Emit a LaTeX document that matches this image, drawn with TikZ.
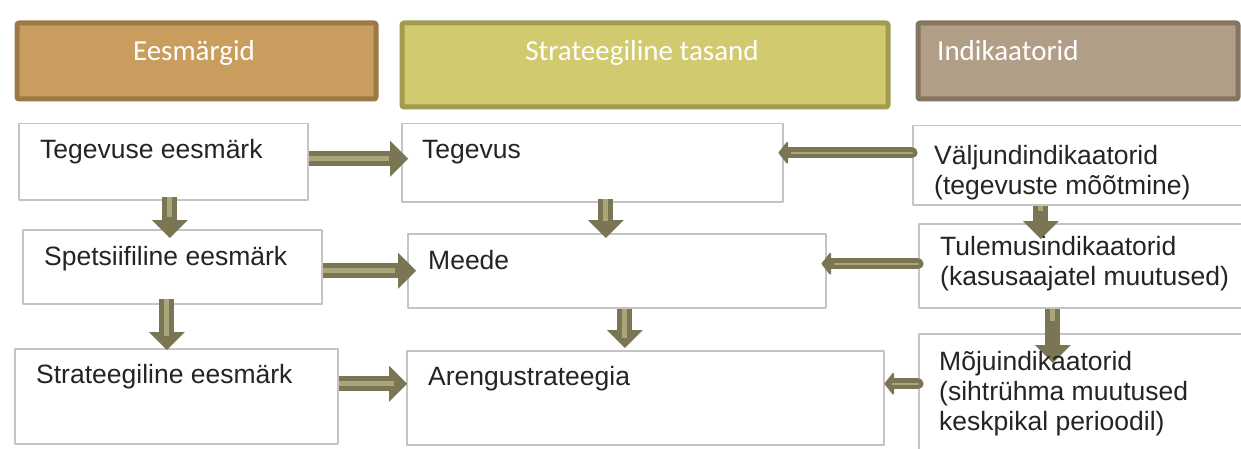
\documentclass[tikz,border=0pt]{standalone}
\usepackage{fontspec}
\setmainfont{Liberation Sans}
\newfontfamily\hdfont{Carlito}
\usetikzlibrary{arrows.meta}
\definecolor{goalfill}{HTML}{C89D5D}
\definecolor{goalline}{HTML}{9B7846}
\definecolor{stratfill}{HTML}{D2CA6E}
\definecolor{stratline}{HTML}{A09B4F}
\definecolor{indfill}{HTML}{B09E87}
\definecolor{indline}{HTML}{85745F}
\definecolor{cellline}{HTML}{C4C4C4}
\definecolor{arrdark}{HTML}{7A7653}
\definecolor{arrlight}{HTML}{A9A67C}
\definecolor{txt}{HTML}{262420}
\begin{document}
\begin{tikzpicture}[x=1pt, y=-1pt, line join=round,
	hdr/.style={line width=5pt, rounded corners=2pt, anchor=north west, inner sep=0pt},
	hdtext/.style={font=\hdfont\fontsize{29}{34}\selectfont, text=white, inner sep=0pt, anchor=base},
	cell/.style={draw=cellline, line width=1.5pt, fill=white, anchor=north west, inner sep=0pt},
	celltext/.style={font=\fontsize{26.5}{30}\selectfont, text=txt, inner sep=0pt, align=left, anchor=base west},
	fatarr/.style={draw=arrdark, line width=15pt, -{Triangle[length=18pt,width=36pt,line width=0pt]},
		postaction={draw=arrlight, line width=5pt, -, shorten >=12pt}},
	slimarr/.style={draw=arrdark, line width=11pt, line cap=round, -{Triangle[round,length=10pt,width=25pt,line width=2pt]},
		postaction={draw=arrlight, line width=2pt, -, shorten >=8pt}}]
	\useasboundingbox (0,0) rectangle (1241,449);
	\clip (0,0) rectangle (1241,449);
	% kolm pealkirja
	\node[hdr, draw=goalline, fill=goalfill, minimum width=359pt, minimum height=76pt] (eesm) at (14.5,20.5) {};
	\node[hdr, draw=stratline, fill=stratfill, minimum width=486pt, minimum height=84pt] (tasand) at (399.5,20.5) {};
	\node[hdr, draw=indline, fill=indfill, minimum width=320pt, minimum height=76pt] (indik) at (915.5,20.5) {};
	\node[hdtext] (eesmT) at (194,61) {Eesmärgid};
	\node[hdtext] (tasandT) at (642,61) {Strateegiline tasand};
	\node[hdtext, anchor=base west] (indikT) at (937,61) {Indikaatorid};
	% kastid
	\node[cell, minimum width=289pt, minimum height=76pt] (teg) at (18,123) {};
	\node[cell, minimum width=299pt, minimum height=74pt] (spets) at (22,229) {};
	\node[cell, minimum width=323pt, minimum height=95pt] (strat) at (14,348) {};
	\node[cell, minimum width=381pt, minimum height=78pt] (tegevus) at (401,123) {};
	\node[cell, minimum width=418pt, minimum height=74pt] (meede) at (407,233) {};
	\node[cell, minimum width=477pt, minimum height=94pt] (areng) at (406,350) {};
	\node[cell, minimum width=340pt, minimum height=79pt] (valjund) at (912,125) {};
	\node[cell, minimum width=340pt, minimum height=84pt] (tulemus) at (918,223) {};
	\node[cell, minimum width=340pt, minimum height=130pt] (moju) at (918,333) {};
	% nooled
	\draw[fatarr, shorten >=-7pt] ([yshift=3pt]teg.east) -- ([yshift=4pt]tegevus.west);
	\draw[fatarr, shorten >=-9pt] ([yshift=-4pt]spets.east) -- (meede.west);
	\draw[fatarr, shorten >=-1pt] ([yshift=12.5pt]strat.east) -- ([yshift=14pt]areng.west);
	\draw[slimarr, shorten >=-5pt] ([yshift=12.5pt]valjund.west) -- ([yshift=10pt]tegevus.east);
	\draw[slimarr, shorten >=-5pt] ([yshift=2pt]tulemus.west) -- ([yshift=7pt]meede.east);
	\draw[slimarr] ([yshift=15pt]moju.west) -- ([yshift=14pt]areng.east);
	\draw[fatarr, shorten <=-4pt, shorten >=-9pt] ([xshift=6.5pt]teg.south) -- ([xshift=-2.5pt]spets.north);
	\draw[fatarr, shorten <=-6pt, shorten >=-2pt] ([xshift=-5.5pt]spets.south) -- ([xshift=-9.5pt]strat.north);
	\draw[fatarr, shorten <=-4pt, shorten >=-5pt] ([xshift=13.5pt]tegevus.south) -- ([xshift=-11pt]meede.north);
	\draw[fatarr, shorten >=2pt] ([xshift=8pt]meede.south) -- ([xshift=-20.5pt]areng.north);
	\draw[fatarr, shorten >=-16pt] ([xshift=-42pt]valjund.south) -- ([xshift=-48pt]tulemus.north);
	\draw[fatarr, shorten >=-30pt] ([xshift=-36pt]tulemus.south) -- ([xshift=-36pt]moju.north);
	% tekstid
	\node[celltext] (tegT) at (40,159) {Tegevuse eesmärk};
	\node[celltext] (spetsT) at (44,265) {Spetsiifiline eesmärk};
	\node[celltext] (stratT) at (36,383) {Strateegiline eesmärk};
	\node[celltext] (tegevusT) at (422,159) {Tegevus};
	\node[celltext] (meedeT) at (428,269) {Meede};
	\node[celltext] (arengT) at (428,385) {Arengustrateegia};
	\node[celltext] (valjundT) at (934,194) {Väljundindikaatorid\\(tegevuste mõõtmine)};
	\node[celltext] (tulemusT) at (940,285) {Tulemusindikaatorid\\(kasusaajatel muutused)};
	\node[celltext] (mojuT) at (939,430) {Mõjuindikaatorid\\(sihtrühma muutused\\keskpikal perioodil)};
\end{tikzpicture}
\end{document}
